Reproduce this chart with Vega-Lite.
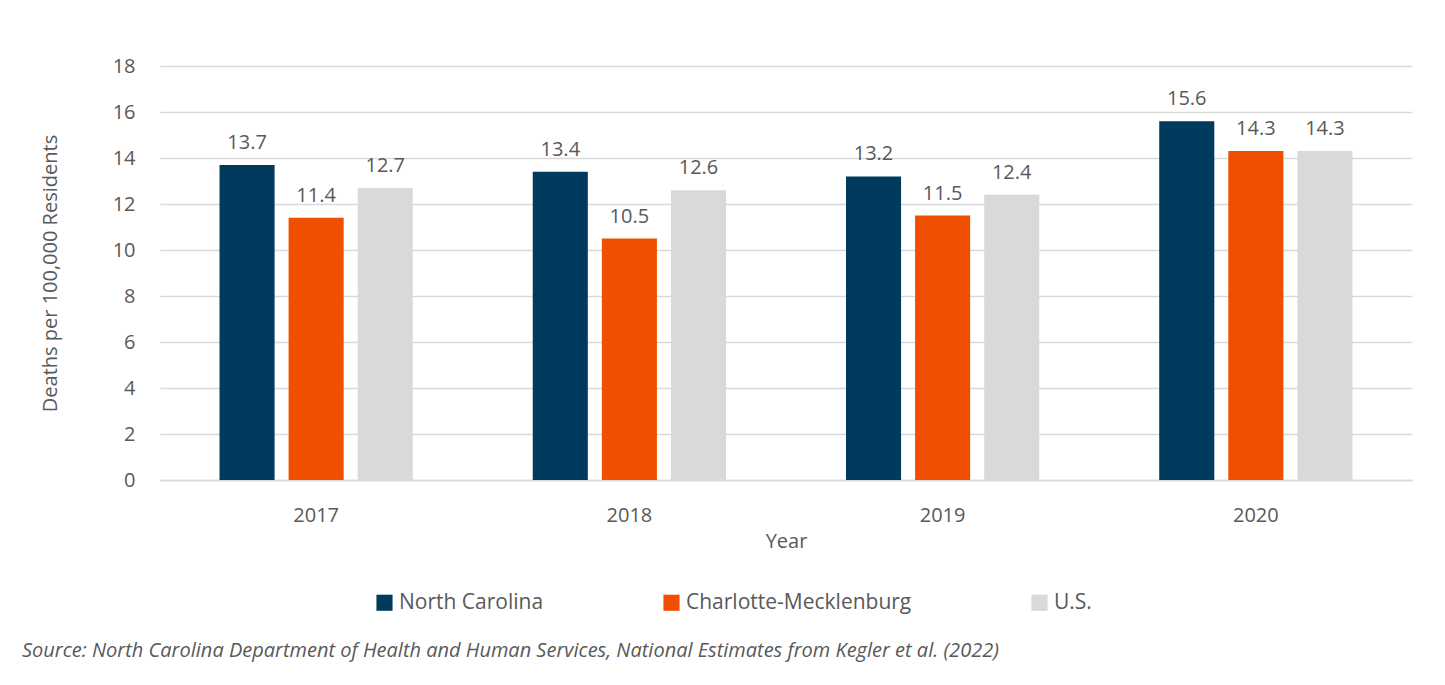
{
  "$schema": "https://vega.github.io/schema/vega-lite/v6.json",
  "width": 1252,
  "height": 414,
  "autosize": {"type": "none"},
  "padding": {"left": 160, "top": 66, "right": 33, "bottom": 205},
  "background": "white",
  "config": {
    "font": "Open Sans",
    "view": {"stroke": null},
    "axis": {"labelColor": "#595959", "titleColor": "#595959", "labelFont": "Open Sans", "titleFont": "Open Sans", "titleFontWeight": "normal"}
  },
  "title": {
    "text": "Source: North Carolina Department of Health and Human Services, National Estimates from Kegler et al. (2022)",
    "orient": "bottom",
    "anchor": "start",
    "frame": "group",
    "dx": -138,
    "dy": 0,
    "offset": 28,
    "font": "Open Sans",
    "fontSize": 20,
    "fontStyle": "italic",
    "fontWeight": "normal",
    "color": "#595959"
  },
  "data": {
    "values": [
      {"Year": "2017", "Series": "North Carolina", "Value": 13.7},
      {"Year": "2017", "Series": "Charlotte-Mecklenburg", "Value": 11.4},
      {"Year": "2017", "Series": "U.S.", "Value": 12.7},
      {"Year": "2018", "Series": "North Carolina", "Value": 13.4},
      {"Year": "2018", "Series": "Charlotte-Mecklenburg", "Value": 10.5},
      {"Year": "2018", "Series": "U.S.", "Value": 12.6},
      {"Year": "2019", "Series": "North Carolina", "Value": 13.2},
      {"Year": "2019", "Series": "Charlotte-Mecklenburg", "Value": 11.5},
      {"Year": "2019", "Series": "U.S.", "Value": 12.4},
      {"Year": "2020", "Series": "North Carolina", "Value": 15.6},
      {"Year": "2020", "Series": "Charlotte-Mecklenburg", "Value": 14.3},
      {"Year": "2020", "Series": "U.S.", "Value": 14.3}
    ]
  },
  "encoding": {
    "x": {
      "field": "Year", "type": "nominal",
      "scale": {"paddingInner": 0.383, "paddingOuter": 0.19},
      "axis": {"labelAngle": 0, "ticks": false, "domainColor": "#d9d9d9", "domainWidth": 1.5, "labelFontSize": 20, "labelPadding": 25, "title": "Year", "titleFontSize": 20, "titlePadding": 6}
    },
    "xOffset": {
      "field": "Series", "type": "nominal",
      "sort": ["North Carolina", "Charlotte-Mecklenburg", "U.S."],
      "scale": {"paddingInner": 0.203, "paddingOuter": 0}
    },
    "y": {
      "field": "Value", "type": "quantitative",
      "scale": {"domain": [0, 18]},
      "axis": {"values": [0, 2, 4, 6, 8, 10, 12, 14, 16, 18], "domain": false, "ticks": false, "gridColor": "#d9d9d9", "gridWidth": 1.5, "labelFontSize": 20, "labelPadding": 25, "title": "Deaths per 100,000 Residents", "titleFontSize": 20, "titlePadding": 52}
    }
  },
  "layer": [
    {
      "mark": {"type": "bar"},
      "encoding": {
        "color": {
          "field": "Series", "type": "nominal",
          "scale": {"domain": ["North Carolina", "Charlotte-Mecklenburg", "U.S."], "range": ["#003a5d", "#f04e00", "#d9d9d9"]},
          "legend": {"title": null, "orient": "none", "direction": "horizontal", "legendX": 214, "legendY": 526, "symbolType": "square", "symbolSize": 260, "symbolStrokeWidth": 0, "labelFontSize": 21, "labelColor": "#595959", "labelFont": "Open Sans", "labelLimit": 400, "columnPadding": 117, "labelOffset": 4}
        }
      }
    },
    {
      "mark": {"type": "text", "baseline": "bottom", "dy": -12, "fontSize": 20, "color": "#595959", "font": "Open Sans"},
      "encoding": {
        "text": {"field": "Value", "type": "quantitative", "format": ".1f"}
      }
    }
  ]
}
